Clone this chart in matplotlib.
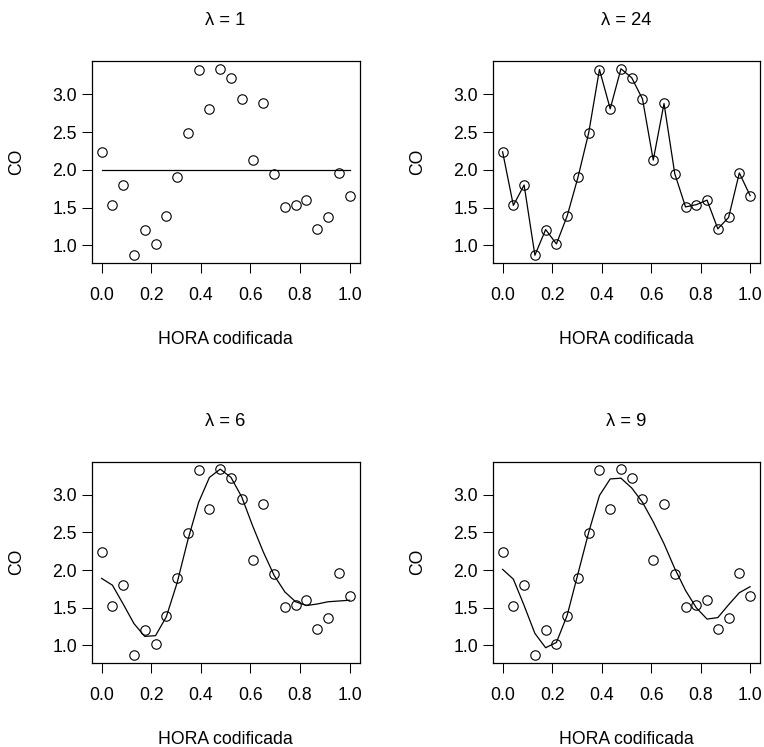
import numpy as np
import matplotlib
matplotlib.use('Agg')
import matplotlib.pyplot as plt

plt.rcParams['font.family'] = ['Liberation Sans', 'DejaVu Sans']

# hora del dia (0..23) y CO observado
hora = [0, 1, 2, 3, 4, 5, 6, 7, 8, 9, 10, 11,
        12, 13, 14, 15, 16, 17, 18, 19, 20, 21, 22, 23]
co = [2.24, 1.53, 1.80, 0.87, 1.21, 1.02, 1.39, 1.90, 2.49, 3.33, 2.81, 3.34,
      3.22, 2.94, 2.13, 2.88, 1.95, 1.51, 1.54, 1.60, 1.22, 1.37, 1.96, 1.66]

# curvas ajustadas
ajuste_l1 = [2.00] * 24
ajuste_l24 = co
ajuste_l6 = [1.89, 1.80, 1.55, 1.29, 1.12, 1.13, 1.38, 1.83, 2.40, 2.90, 3.23, 3.34,
             3.23, 2.97, 2.59, 2.24, 1.93, 1.71, 1.58, 1.53, 1.55, 1.58, 1.59, 1.60]
ajuste_l9 = [2.01, 1.88, 1.53, 1.16, 0.97, 1.04, 1.40, 1.95, 2.50, 2.99, 3.21, 3.22,
             3.09, 2.90, 2.64, 2.35, 2.02, 1.73, 1.50, 1.35, 1.37, 1.54, 1.70, 1.78]

paneles = [('1', ajuste_l1), ('24', ajuste_l24), ('6', ajuste_l6), ('9', ajuste_l9)]

x = np.array(hora) / 23.0
W, H = 764, 747
fig = plt.figure(figsize=(W / 100, H / 100), dpi=100)

# posiciones en pixeles (izq, der, arriba, abajo)
cajas = [(91.7, 359.5, 61.3, 262.7), (492.7, 760.0, 61.3, 262.7),
         (91.7, 359.5, 461.7, 662.7), (492.7, 760.0, 461.7, 662.7)]

fs = 12.7
ymin, ymax = min(co), max(co)
dy = (ymax - ymin) * 0.04

for (lam, ajuste), (l, r, t, b) in zip(paneles, cajas):
    ax = fig.add_axes([l / W, 1 - b / H, (r - l) / W, (b - t) / H])
    ax.plot(x, ajuste, color='black', lw=0.9, zorder=2)
    ax.plot(x, co, linestyle='none', marker='o', ms=6.8, mfc='none',
            mec='black', mew=0.8, zorder=3)
    ax.set_xlim(-0.04, 1.04)
    ax.set_ylim(ymin - dy, ymax + dy)
    ax.set_xticks([0.0, 0.2, 0.4, 0.6, 0.8, 1.0])
    ax.set_xticklabels(['0.0', '0.2', '0.4', '0.6', '0.8', '1.0'])
    ax.set_yticks([1.0, 1.5, 2.0, 2.5, 3.0])
    ax.set_yticklabels(['1.0', '1.5', '2.0', '2.5', '3.0'])
    ax.tick_params(axis='x', direction='out', length=7.2, width=0.75,
                   labelsize=fs, pad=10)
    ax.tick_params(axis='y', direction='out', length=7.2, width=0.75,
                   labelsize=fs, pad=3.4)
    for s in ax.spines.values():
        s.set_linewidth(0.9)
    ax.set_title('\u03bb = ' + lam, fontsize=fs + 0.5, pad=26)
    ax.set_xlabel('HORA codificada', fontsize=fs)
    ax.xaxis.label.set_va('center')
    ax.xaxis.set_label_coords(0.5, -76.3 / (b - t))
    ax.set_ylabel('CO', fontsize=fs)
    ax.yaxis.label.set_va('center')
    ax.yaxis.set_label_coords(-75.0 / (r - l), 0.5)

fig.savefig('out.png', dpi=100)
